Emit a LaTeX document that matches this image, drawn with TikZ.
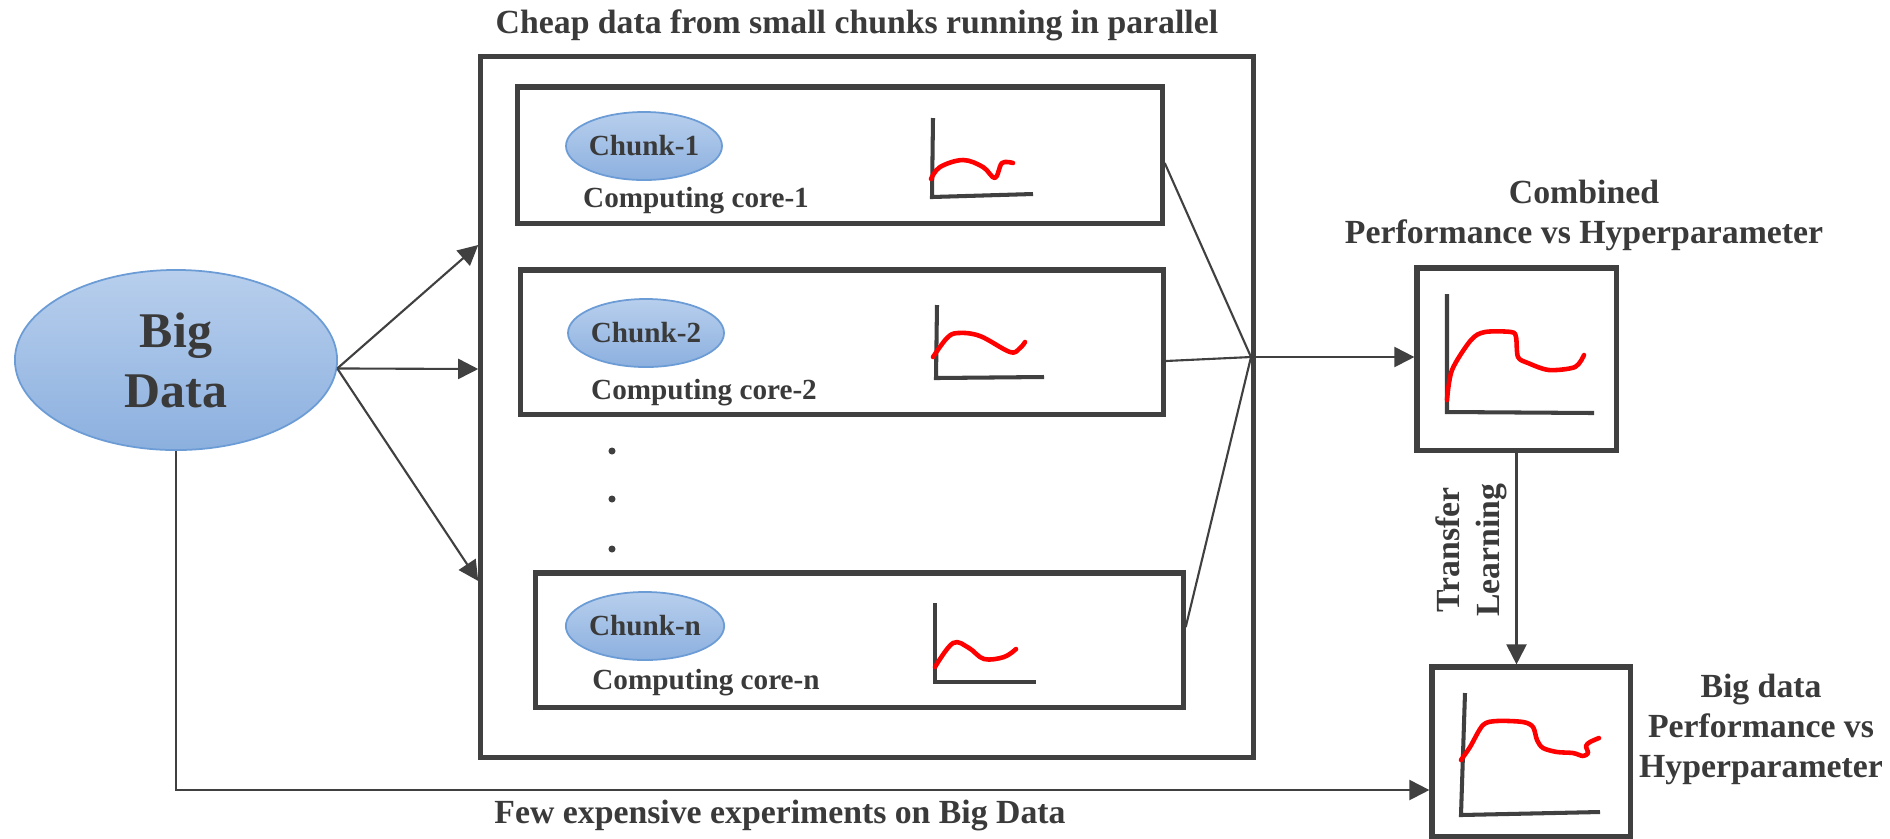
\documentclass[tikz,border=0pt]{standalone}
\usepackage{fontspec}
\setmainfont{Liberation Serif}
\usetikzlibrary{arrows.meta,shapes.geometric}
\definecolor{ink}{RGB}{64,64,64}
\definecolor{txt}{RGB}{58,58,58}
\definecolor{blobtop}{RGB}{184,207,237}
\definecolor{blobbot}{RGB}{140,176,223}
\definecolor{blobline}{RGB}{108,156,214}
\definecolor{curve}{RGB}{255,0,0}
\newcommand\lblfont{\bfseries\fontsize{9.6pt}{11.3pt}\selectfont}
\newcommand\chunkfont{\bfseries\fontsize{8.3pt}{10pt}\selectfont}
\newcommand\hugefont{\bfseries\fontsize{14.2pt}{17.1pt}\selectfont}
\begin{document}
\begin{tikzpicture}[x=0.01cm,y=-0.01cm,
  box/.style={draw=ink,line width=1.45pt,inner sep=0pt},
  blob/.style={ellipse,draw=blobline,line width=0.5pt,top color=blobtop,
    bottom color=blobbot,inner sep=0pt,text=txt},
  link/.style={draw=ink,line width=0.6pt},
  arrow/.style={link,-{Triangle[length=5.7pt,width=5.7pt]}},
  axis/.style={draw=ink,line width=1.15pt},
  trace/.style={draw=curve,line width=1.3pt,line cap=round,line join=round},
  lbl/.style={text=txt,font=\lblfont,inner sep=0pt},
  corelbl/.style={text=txt,font=\chunkfont,inner sep=0pt,anchor=base}]

\fill[white,use as bounding box] (0,0) rectangle (1890,838);

% frames
\node[box,minimum width=7.72cm,minimum height=7.00cm] (outer) at (867,407) {};
\node[box,minimum width=6.44cm,minimum height=1.36cm] (core1) at (840,155) {};
\node[box,minimum width=6.42cm,minimum height=1.44cm] (core2) at (842,342) {};
\node[box,minimum width=6.47cm,minimum height=1.34cm] (coren) at (859.5,640) {};
\node[box,minimum width=1.99cm,minimum height=1.82cm] (comb) at (1516.5,359) {};
\node[box,minimum width=1.98cm,minimum height=1.69cm] (bigbox) at (1531,751.5) {};

% data blobs
\node[blob,minimum width=3.22cm,minimum height=1.80cm,align=center,font=\hugefont] (bd) at (176,360) {Big\\Data};
\node[blob,minimum width=1.48cm,minimum height=0.68cm,font=\chunkfont] (ch1) at (644,146) {Chunk-1};
\node[blob,minimum width=1.48cm,minimum height=0.68cm,font=\chunkfont] (ch2) at (646,333) {Chunk-2};
\node[blob,minimum width=1.48cm,minimum height=0.68cm,font=\chunkfont] (chn) at (645,626) {Chunk-n};

\node[corelbl] (cc1) at (696,207) {Computing core-1};
\node[corelbl] (cc2) at (704,399) {Computing core-2};
\node[corelbl] (ccn) at (706,689) {Computing core-n};

% ellipsis dots
\foreach \yy in {451,499,549} \fill[ink] (612,\yy) circle[radius=1pt];

% small performance sketches
\draw[axis] (933,118) -- (932,197) -- (1033,194);
\draw[trace] plot[smooth,tension=0.6] coordinates {(931,179) (940,167) (963,160) (983,167) (995,178) (1002,163) (1013,163)};
\draw[axis] (937,305) -- (936,378) -- (1044,377);
\draw[trace] plot[smooth,tension=0.6] coordinates {(933,357) (947,338) (958,333) (980,336) (1010,352) (1020,348) (1025,342)};
\draw[axis] (935,603) -- (935,682) -- (1036,682);
\draw[trace] plot[smooth,tension=0.6] coordinates {(935,667) (953,643) (969,648) (984,659) (1004,657) (1016,649)};
\draw[axis] (1447,294) -- (1447,412) -- (1594,413);
\draw[trace] plot[smooth,tension=0.5] coordinates {(1447,400) (1452,370) (1471,340) (1485,332) (1511,332) (1516,337) (1518,357) (1528,363) (1549,370) (1575,367) (1584,355)};
\draw[axis] (1465,693) -- (1461,815) -- (1600,812);
\draw[trace] plot[smooth,tension=0.5] coordinates {(1461,760) (1470,747) (1483,725) (1497,721) (1523,722) (1533,727) (1537,740) (1543,748) (1557,752) (1573,753) (1583,756) (1588,753) (1586,746) (1590,742) (1599,738)};

% connectors
\draw[arrow] (bd.-3) -- (outer.west |- 0,245);
\draw[arrow] (bd.-3) -- (outer.west |- 0,369);
\draw[arrow] (bd.-3) -- (outer.west |- 0,581);
\coordinate (hub) at (1251,357);
\draw[link] (core1.east |- 0,163) -- (hub);
\draw[link] (core2.east |- 0,361) -- (hub);
\draw[link] (coren.east |- 0,627) -- (hub);
\draw[arrow] (hub) -- (comb.west |- hub);
\draw[arrow] (comb.south) -- (comb.south |- bigbox.north);
\draw[arrow] (bd.south) |- (bigbox.west |- 0,790);

% captions
\node[lbl,anchor=base] (title) at (857,33) {Cheap data from small chunks running in parallel};
\node[lbl,anchor=base] (few) at (780,823) {Few expensive experiments on Big Data};
\node[lbl,align=center] (combcap) at (1584,215.5) {Combined\\Performance vs Hyperparameter};
\node[lbl,align=center] (bigcap) at (1761,729.5) {Big data\\Performance vs\\Hyperparameter};
\node[lbl,align=center,rotate=90] (tl) at (1471,550) {Transfer\\Learning};
\end{tikzpicture}
\end{document}
